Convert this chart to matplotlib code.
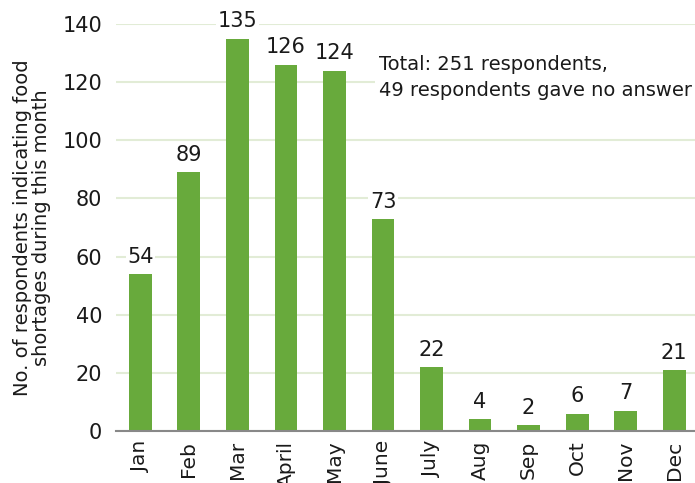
import matplotlib
matplotlib.use("Agg")
import matplotlib.pyplot as plt

plt.rcParams['font.family'] = ['DejaVu Sans']

months = ['Jan', 'Feb', 'Mar', 'April', 'May', 'June', 'July', 'Aug', 'Sep', 'Oct', 'Nov', 'Dec']
counts = [54, 89, 135, 126, 124, 73, 22, 4, 2, 6, 7, 21]
yticks = [0, 20, 40, 60, 80, 100, 120, 140]

bar_color = '#68aa3c'
grid_color = '#e2ecd6'
text_color = '#1a1a1a'

fig = plt.figure(figsize=(6.95, 4.83), dpi=100)
ax = fig.add_axes([0.167, 0.1077, 0.838, 0.8426])

x = range(len(months))
ax.bar(x, counts, width=0.47, color=bar_color, zorder=2)

for xi, v in zip(x, counts):
    ax.text(xi, v + 2.5, str(v), ha='center', va='bottom', fontsize=15,
            color=text_color, zorder=3,
            bbox=dict(facecolor='white', edgecolor='none', pad=1))

ax.set_xlim(-0.5, 11.5)
ax.set_ylim(0, 140)
ax.set_yticks(yticks)
ax.set_yticklabels([str(t) for t in yticks], fontsize=15, color=text_color)
ax.set_xticks(list(x))
ax.set_xticklabels(months, rotation=90, fontsize=14.5, color=text_color)
ax.tick_params(axis='x', length=0, pad=7)
ax.tick_params(axis='y', length=0, pad=10)

ax.yaxis.grid(True, color=grid_color, linewidth=1.5, zorder=0)
ax.set_axisbelow(True)
for s in ['top', 'right', 'left']:
    ax.spines[s].set_visible(False)
ax.spines['bottom'].set_color('#888888')
ax.spines['bottom'].set_linewidth(1.5)
ax.spines['bottom'].set_zorder(4)

ax.set_ylabel('No. of respondents indicating food\nshortages during this month',
              fontsize=14, color=text_color, labelpad=8, linespacing=1.05)

ax.text(0.452, 0.925, 'Total: 251 respondents,\n49 respondents gave no answer',
        transform=ax.transAxes, ha='left', va='top', fontsize=14,
        color=text_color, linespacing=1.5, zorder=3,
        bbox=dict(facecolor='white', edgecolor='none', pad=3))

fig.savefig('out.png', dpi=100)
